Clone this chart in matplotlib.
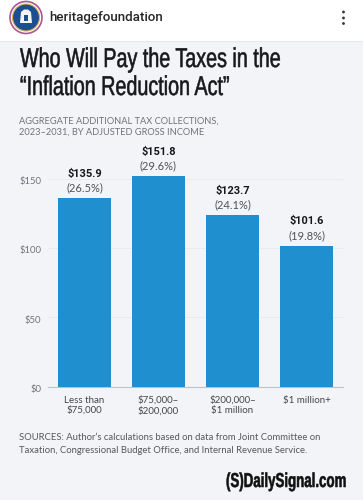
import matplotlib
matplotlib.use("Agg")
import matplotlib.pyplot as plt
from matplotlib.patches import Circle, Rectangle, Polygon
from matplotlib.patheffects import AbstractPathEffect
from matplotlib.transforms import Affine2D, ScaledTranslation

# values
groups = ["Less than\n$75,000", "$75,000–\n$200,000", "$200,000–\n$1 million", "$1 million+"]
amounts = [135.9, 151.8, 123.7, 101.6]
shares = ["(26.5%)", "(29.6%)", "(24.1%)", "(19.8%)"]
yticks = [0, 50, 100, 150]
ytick_labels = ["$0", "$50", "$100", "$150"]

W, H = 363, 500
BG = "#f3f4f8"
BLUE = "#1f8fd0"
GREY = "#6f7378"
DARK = "#17181a"
SANS = ["Lato", "DejaVu Sans"]
HEAD = ["Liberation Sans", "DejaVu Sans"]


# no condensed font installed, so squeeze the glyph outlines sideways
class Squeeze(AbstractPathEffect):
    def __init__(self, sx, shift, stroke=0.0):
        super().__init__()
        self.sx = sx
        self.shift = shift
        self.stroke = stroke

    def draw_path(self, renderer, gc, tpath, affine, rgbFace=None):
        squeezed = Affine2D().scale(self.sx, 1) + affine + Affine2D().translate(self.shift, 0)
        gc0 = renderer.new_gc()
        gc0.copy_properties(gc)
        gc0.set_linewidth(self.stroke)
        gc0.set_foreground(rgbFace)
        renderer.draw_path(gc0, tpath, squeezed, rgbFace)
        gc0.restore()


fig = plt.figure(figsize=(W / 100, H / 100), dpi=100, facecolor=BG)

# full-figure layer in pixel coordinates for the page furniture
page = fig.add_axes([0, 0, 1, 1])
page.set_xlim(0, W)
page.set_ylim(H, 0)
page.axis("off")
page.add_patch(Rectangle((0, 0), W, 40.5, fc="white", ec="none"))
page.plot([0, W], [40.5, 40.5], color="#e4e5e8", lw=0.6)

# avatar
page.add_patch(Circle((26, 17.5), 16, fc="white", ec="#b0568f", lw=1.2))
page.add_patch(Circle((26, 17.5), 13.5, fc="#1c4f91", ec="#d9b45a", lw=0.8))
page.add_patch(Polygon([(20, 23), (21, 12), (24, 9.5), (28, 9.5), (31, 12), (32, 23)], fc="#f2f4f6", ec="none"))
page.add_patch(Rectangle((24, 15), 4, 6, fc="#1c4f91", ec="none"))

for dot_y in [12, 18, 23.5]:
    page.add_patch(Circle((343.5, dot_y), 1.4, fc="#333333", ec="none"))

page.text(49, 17.5, "heritagefoundation", fontsize=9.6, family=["Roboto", "DejaVu Sans"],
          color="#262626", va="center", ha="left", fontweight="medium")

# title
page.text(1, 67, "Who Will Pay the Taxes in the", fontsize=19.6, family=HEAD,
          color=DARK, va="baseline", ha="left",
          path_effects=[Squeeze(0.725, 19, 0.4)])
page.text(1, 95, "“Inflation Reduction Act”", fontsize=19.6, family=HEAD,
          color=DARK, va="baseline", ha="left",
          path_effects=[Squeeze(0.725, 19, 0.4)])

page.text(19, 121, "AGGREGATE ADDITIONAL TAX COLLECTIONS,", fontsize=6.7, family=SANS, color=GREY, va="center")
page.text(19, 132.5, "2023–2031, BY ADJUSTED GROSS INCOME", fontsize=6.7, family=SANS, color=GREY, va="center")

page.text(19, 437.5, "SOURCES: Author’s calculations based on data from Joint Committee on",
          fontsize=6.8, family=SANS, color="#55585c", va="center")
page.text(19, 450.5, "Taxation, Congressional Budget Office, and Internal Revenue Service.",
          fontsize=6.8, family=SANS, color="#55585c", va="center")
page.text(165, 487, "(S)DailySignal.com", fontsize=14.5, family=HEAD, fontweight="bold",
          color="#111111", va="baseline", ha="left",
          path_effects=[Squeeze(0.66, 61, 0.4)])

# chart, placed so that $0 sits at y=386.5 and $150 at y=178.5
left, right = 48, 343
base, top = 386.5, 160
ax = fig.add_axes([left / W, 1 - base / H, (right - left) / W, (base - top) / H])
ax.set_facecolor("none")
ax.set_xlim(-0.493, 3.493)
ax.set_ylim(0, (base - top) / (208 / 150))

positions = range(len(groups))
ax.bar(positions, amounts, width=0.716, color=BLUE, zorder=3)

for pos, amount, share in zip(positions, amounts, shares):
    ax.annotate(f"${amount:.1f}", (pos, amount), xytext=(0, 17.5), textcoords="offset points",
                ha="center", va="center", fontsize=7.9, fontweight="bold",
                family=["Roboto", "DejaVu Sans"], color=DARK, annotation_clip=False)
    ax.annotate(share, (pos, amount), xytext=(0, 7.2), textcoords="offset points",
                ha="center", va="center", fontsize=8, family=SANS, color="#505356",
                annotation_clip=False)

ax.set_yticks(yticks)
ax.set_yticklabels(ytick_labels, fontsize=6.8, family=SANS, color=GREY)
ax.set_xticks(list(positions))
ax.set_xticklabels(groups, fontsize=7, family=SANS, color="#44474a", linespacing=1.15)
ax.tick_params(axis="both", length=0)
ax.tick_params(axis="y", pad=5)
ax.tick_params(axis="x", pad=6.5)
ax.grid(axis="y", color="#e9eaee", lw=0.7, zorder=0)
ax.set_axisbelow(True)
for side in ["top", "left", "right"]:
    ax.spines[side].set_visible(False)
ax.spines["bottom"].set_color("#b9c3cf")
ax.spines["bottom"].set_linewidth(0.8)

# tick labels sit a little below their gridlines in the reference
nudge = ScaledTranslation(0, -1.5 / 72, fig.dpi_scale_trans)
for label in ax.get_yticklabels():
    label.set_transform(label.get_transform() + nudge)

fig.savefig("out.png", dpi=100, facecolor=BG)
